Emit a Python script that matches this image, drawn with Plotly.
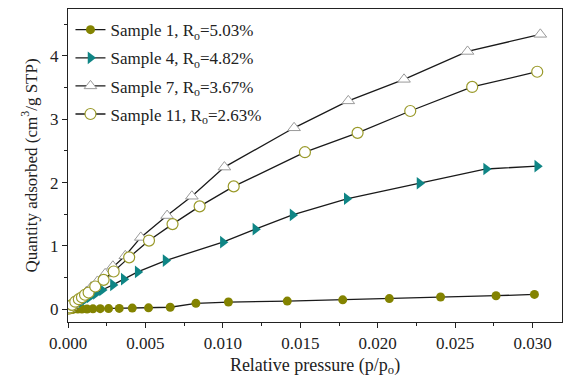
import plotly.graph_objects as go

# ---- data ----
x1 = [0.00005, 0.00015, 0.00025, 0.00036, 0.00064, 0.0009, 0.00123, 0.00161, 0.00208, 0.00262,
      0.00331, 0.00415, 0.0052, 0.0066, 0.00826, 0.01036, 0.01416, 0.01774, 0.02075, 0.02406,
      0.02764, 0.03012]
y1 = [0.000, 0.001, 0.002, 0.003, 0.004, 0.005, 0.006, 0.008, 0.010, 0.012,
      0.015, 0.019, 0.024, 0.033, 0.095, 0.115, 0.130, 0.150, 0.170, 0.195,
      0.215, 0.235]

x4 = [0.0001, 0.0003, 0.0005, 0.0008, 0.0011, 0.0014, 0.0018, 0.0022, 0.0029, 0.0036,
      0.0045, 0.0063, 0.0100, 0.0121, 0.0145, 0.0180, 0.0227, 0.0270, 0.0303]
y4 = [0.01, 0.04, 0.07, 0.11, 0.155, 0.195, 0.25, 0.305, 0.385, 0.476,
      0.59, 0.77, 1.06, 1.265, 1.49, 1.745, 1.99, 2.215, 2.26]

x7 = [0.00005, 0.00015, 0.0003, 0.0005, 0.0007, 0.00095, 0.0012, 0.0015, 0.0019, 0.0024,
      0.0029, 0.0037, 0.0047, 0.0064, 0.0080, 0.0101, 0.0146, 0.0181, 0.0217, 0.0258, 0.0305]
y7 = [0.01, 0.04, 0.075, 0.12, 0.17, 0.22, 0.28, 0.35, 0.44, 0.56,
      0.68, 0.845, 1.135, 1.48, 1.785, 2.245, 2.865, 3.29, 3.63, 4.07, 4.34]

x11 = [0.00005, 0.00012, 0.00026, 0.00047, 0.0007, 0.0009, 0.0011, 0.00133, 0.00176, 0.0023,
       0.00295, 0.00395, 0.00523, 0.00675, 0.0085, 0.0107, 0.0153, 0.0187, 0.0221, 0.0261, 0.0303]
y11 = [0.01, 0.03, 0.07, 0.12, 0.16, 0.19, 0.23, 0.265, 0.36, 0.465,
       0.597, 0.82, 1.085, 1.345, 1.625, 1.94, 2.48, 2.785, 3.13, 3.51, 3.75]

names = ["Sample 1, R<sub>o</sub>=5.03%", "Sample 4, R<sub>o</sub>=4.82%",
         "Sample 7, R<sub>o</sub>=3.67%", "Sample 11, R<sub>o</sub>=2.63%"]

x_ticks = [0.000, 0.005, 0.010, 0.015, 0.020, 0.025, 0.030]
x_ticklabels = ["0.000", "0.005", "0.010", "0.015", "0.020", "0.025", "0.030"]
y_ticks = [0, 1, 2, 3, 4]

FONT = "Liberation Serif, Times New Roman, serif"
OLIVE = "#838300"
TEAL = "#0f8585"

fig = go.Figure()
fig.add_trace(go.Scatter(x=x1, y=y1, name=names[0], mode="lines+markers", legendgroup="a",
                         line=dict(color="#1a1a1a", width=1.3),
                         marker=dict(symbol="circle", size=9, color=OLIVE, line=dict(width=0))))
fig.add_trace(go.Scatter(x=x4, y=y4, name=names[1], mode="lines+markers", legendgroup="b",
                         line=dict(color="#1a1a1a", width=1.3),
                         marker=dict(symbol="triangle-right", size=11, color=TEAL, line=dict(width=0))))
fig.add_trace(go.Scatter(x=x7, y=y7, name=names[2], mode="lines+markers", legendgroup="c",
                         line=dict(color="#1a1a1a", width=1.3),
                         marker=dict(symbol="triangle-up", size=11, color="white",
                                     line=dict(width=1, color="#9a9a9a"))))
fig.add_trace(go.Scatter(x=x11, y=y11, name=names[3], mode="lines+markers", legendgroup="d",
                         line=dict(color="#1a1a1a", width=1.3),
                         marker=dict(symbol="circle", size=11, color="white",
                                     line=dict(width=1.2, color="#9a9a2a"))))

fig.update_layout(
    width=563, height=378,
    margin=dict(l=68, r=1, t=9, b=56),
    paper_bgcolor="white", plot_bgcolor="white",
    font=dict(family=FONT, size=17, color="#222"),
    showlegend=True,
    legend=dict(x=0.005, y=0.99, xanchor="left", yanchor="top",
                bgcolor="rgba(0,0,0,0)", font=dict(family=FONT, size=17, color="#222"),
                tracegroupgap=3, itemwidth=30),
    xaxis=dict(range=[0, 0.0319], tickvals=x_ticks, ticktext=x_ticklabels,
               showgrid=False, zeroline=False, showline=True, linecolor="#222", linewidth=1.2,
               mirror=True, ticks="outside", ticklen=5, tickwidth=1, tickcolor="#222",
               minor=dict(tickvals=[0.0025, 0.0075, 0.0125, 0.0175, 0.0225, 0.0275],
                          ticks="outside", ticklen=3, tickcolor="#222"),
               tickfont=dict(family=FONT, size=17),
               title=dict(text="Relative pressure (p/p<sub>o</sub>)", font=dict(family=FONT, size=18),
                          standoff=6)),
    yaxis=dict(range=[-0.2, 4.74], tickvals=y_ticks,
               showgrid=False, zeroline=False, showline=True, linecolor="#222", linewidth=1.2,
               mirror=True, ticks="outside", ticklen=5, tickwidth=1, tickcolor="#222",
               minor=dict(tickvals=[0.5, 1.5, 2.5, 3.5, 4.5], ticks="outside", ticklen=3,
                          tickcolor="#222"),
               tickfont=dict(family=FONT, size=17),
               title=dict(text="Quantity adsorbed (cm<sup>3</sup>/g STP)", font=dict(family=FONT, size=17),
                          standoff=8)),
)

fig.write_html("out.html")
